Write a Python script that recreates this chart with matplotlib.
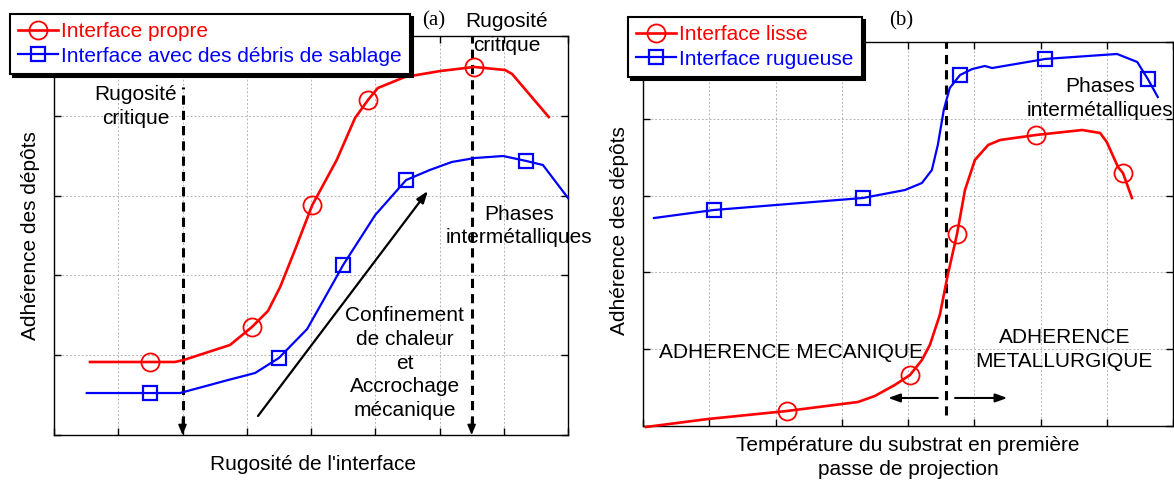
import matplotlib
matplotlib.use('Agg')
import matplotlib.pyplot as plt
import numpy as np

plt.rcParams['font.family'] = ['Liberation Sans', 'DejaVu Sans']

# ---------------- data, panel (a) ----------------
a_red_x = [0.56, 1.494, 1.883, 2.02, 2.74, 3.08, 3.33, 3.52, 3.75, 4.02, 4.40, 4.685,
           4.887, 5.04, 5.46, 6.01, 6.54, 7.02, 7.13, 7.70]
a_red_y = [0.915, 0.915, 0.915, 0.94, 1.128, 1.353, 1.554, 1.855, 2.318, 2.882, 3.446, 3.972,
           4.198, 4.348, 4.486, 4.561, 4.612, 4.574, 4.524, 3.985]
a_red_marks = [1, 5, 9, 12, 16]

a_blue_x = [0.51, 1.494, 1.96, 2.02, 2.71, 3.13, 3.50, 3.94, 4.37, 4.50, 5.00, 5.48,
            5.85, 6.19, 6.55, 6.99, 7.35, 7.61, 8.00]
a_blue_y = [0.526, 0.526, 0.526, 0.539, 0.689, 0.777, 0.965, 1.328, 1.942, 2.13, 2.757, 3.195,
            3.321, 3.421, 3.471, 3.496, 3.434, 3.383, 2.97]
a_blue_marks = [1, 6, 9, 11, 16]

a_labels = ['Interface propre', 'Interface avec des débris de sablage']
a_critical_x = [2.0, 6.5]
a_critical_top = [4.36, 5.0]
a_arrow = [(3.175, 0.238), (5.82, 3.058)]

# ---------------- data, panel (b) ----------------
b_red_x = [0.045, 0.98, 2.17, 3.245, 3.50, 3.80, 4.03, 4.21, 4.33, 4.48, 4.60, 4.74,
           4.86, 5.01, 5.21, 5.39, 5.93, 6.63, 6.90, 7.00, 7.17, 7.245, 7.38]
b_red_y = [-0.013, 0.091, 0.195, 0.3125, 0.391, 0.534, 0.664, 0.859, 1.055, 1.445, 1.966, 2.50,
           3.073, 3.464, 3.659, 3.724, 3.789, 3.854, 3.815, 3.698, 3.372, 3.294, 2.969]
b_red_marks = [2, 6, 11, 16, 21]

b_blue_x = [0.166, 1.07, 3.32, 3.955, 4.21, 4.36, 4.45, 4.54, 4.63, 4.785, 4.97, 5.16,
            5.27, 6.07, 7.155, 7.46, 7.62, 7.77]
b_blue_y = [2.708, 2.8125, 2.969, 3.073, 3.164, 3.333, 3.659, 4.115, 4.401, 4.57, 4.648, 4.6875,
            4.661, 4.779, 4.844, 4.74, 4.518, 4.284]
b_blue_marks = [1, 2, 9, 13, 16]

b_labels = ['Interface lisse', 'Interface rugueuse']
b_transition_x = 4.574
b_transition_range = (0.143, 5.0)
b_arrow_y = 0.365
b_arrow_left = (4.45, 3.70)
b_arrow_right = (4.71, 5.50)

x_ticks = np.arange(0, 9)
y_ticks = np.arange(0, 6)

RED = '#ff0000'
BLUE = '#0000ff'
FS = 15
LS = 1.32

fig = plt.figure(figsize=(11.74, 4.82), dpi=100)
W, H = 1174.0, 482.0


def px_axes(x0, y0, x1, y1):
    return fig.add_axes([x0 / W, 1 - y1 / H, (x1 - x0) / W, (y1 - y0) / H])


def style(ax):
    ax.set_xlim(0, 8)
    ax.set_ylim(0, 5)
    ax.set_xticks(x_ticks)
    ax.set_yticks(y_ticks)
    ax.tick_params(direction='in', length=5, width=1, top=True, right=True,
                   labelbottom=False, labelleft=False)
    ax.grid(True, linestyle=(0, (2, 2)), color='#b5b5b5', linewidth=0.7)
    for s in ax.spines.values():
        s.set_linewidth(1.0)
        s.set_color('black')


def legend(ax, x, y):
    leg = ax.legend(loc='upper left', bbox_to_anchor=(x / W, 1 - y / H),
                    bbox_transform=fig.transFigure, fontsize=FS, frameon=True,
                    fancybox=False, edgecolor='black', framealpha=1,
                    shadow={'color': 'black', 'alpha': 1}, borderaxespad=0,
                    borderpad=0.4, labelspacing=0.25, handlelength=1.9,
                    handletextpad=0.15, labelcolor='linecolor')
    leg.get_frame().set_linewidth(1.5)
    leg.set_zorder(10)
    return leg


# ---------------- panel (a) ----------------
axa = px_axes(54, 36, 568, 435)
style(axa)
axa.plot(a_red_x, a_red_y, color=RED, lw=1.9, marker='o', markevery=a_red_marks,
         markersize=13, markerfacecolor='none', markeredgecolor=RED, markeredgewidth=1.3,
         label=a_labels[0], zorder=4)
axa.plot(a_blue_x, a_blue_y, color=BLUE, lw=1.6, marker='s', markevery=a_blue_marks,
         markersize=10, markerfacecolor='none', markeredgecolor=BLUE, markeredgewidth=1.6,
         label=a_labels[1], zorder=4, clip_on=False)
for xc, yt in zip(a_critical_x, a_critical_top):
    axa.plot([xc, xc], [0.12, yt], color='black', lw=2.2, linestyle=(0, (3, 2)), zorder=3)
    axa.annotate('', xy=(xc, 0), xytext=(xc, 0.2),
                 arrowprops=dict(arrowstyle='-|>,head_length=0.6,head_width=0.25',
                                 color='black', lw=1.2, shrinkA=0, shrinkB=0))
axa.annotate('', xy=a_arrow[1], xytext=a_arrow[0],
             arrowprops=dict(arrowstyle='-|>,head_length=0.7,head_width=0.25',
                             color='black', lw=1.6, shrinkA=0, shrinkB=0))
axa.text(1.27, 4.12, 'Rugosité\ncritique', fontsize=FS, ha='center', va='center',
         linespacing=LS)
axa.text(7.05, 5.03, 'Rugosité\ncritique', fontsize=FS, ha='center', va='center',
         linespacing=LS)
axa.text(5.91, 5.19, '(a)', fontsize=FS, ha='center', va='center',
         family=['Liberation Serif', 'DejaVu Serif'])
axa.text(7.24, 2.62, 'Phases\nintermétalliques', fontsize=FS, ha='center', va='center',
         linespacing=LS)
axa.text(5.46, 0.90, 'Confinement\nde chaleur\net\nAccrochage\nmécanique', fontsize=FS,
         ha='center', va='center', linespacing=LS)
axa.set_xlabel('Rugosité de l\'interface', fontsize=FS, va='center')
axa.xaxis.set_label_coords(0.504, -0.075)
axa.set_ylabel('Adhérence des dépôts', fontsize=FS, va='center')
axa.yaxis.set_label_coords(-0.045, 0.5)
legend(axa, 10, 14)

# ---------------- panel (b) ----------------
axb = px_axes(643, 42, 1173, 426)
style(axb)
axb.plot(b_red_x, b_red_y, color=RED, lw=1.9, marker='o', markevery=b_red_marks,
         markersize=13, markerfacecolor='none', markeredgecolor=RED, markeredgewidth=1.3,
         label=b_labels[0], zorder=4, clip_on=False)
axb.plot(b_blue_x, b_blue_y, color=BLUE, lw=1.6, marker='s', markevery=b_blue_marks,
         markersize=10, markerfacecolor='none', markeredgecolor=BLUE, markeredgewidth=1.6,
         label=b_labels[1], zorder=4)
axb.plot([b_transition_x, b_transition_x], list(b_transition_range), color='black', lw=2.2,
         linestyle=(0, (3, 2)), zorder=3)
for x0, x1 in (b_arrow_left, b_arrow_right):
    axb.annotate('', xy=(x1, b_arrow_y), xytext=(x0, b_arrow_y),
                 arrowprops=dict(arrowstyle='-|>,head_length=0.7,head_width=0.25',
                                 color='black', lw=1.5, shrinkA=0, shrinkB=0))
axb.text(2.23, 0.96, 'ADHERENCE MECANIQUE', fontsize=FS, ha='center', va='center')
axb.text(6.36, 1.0, 'ADHERENCE\nMETALLURGIQUE', fontsize=FS, ha='center', va='center',
         linespacing=LS)
axb.text(6.90, 4.26, 'Phases\nintermétalliques', fontsize=FS, ha='center', va='center',
         linespacing=LS)
axb.text(3.90, 5.27, '(b)', fontsize=FS, ha='center', va='center',
         family=['Liberation Serif', 'DejaVu Serif'])
axb.set_xlabel('Température du substrat en première\npasse de projection', fontsize=FS,
               va='center', linespacing=LS)
axb.xaxis.set_label_coords(0.5, -0.081)
axb.set_ylabel('Adhérence des dépôts', fontsize=FS, va='center')
axb.yaxis.set_label_coords(-0.045, 0.51)
legend(axb, 628, 17)

fig.savefig('out.png', dpi=100)
